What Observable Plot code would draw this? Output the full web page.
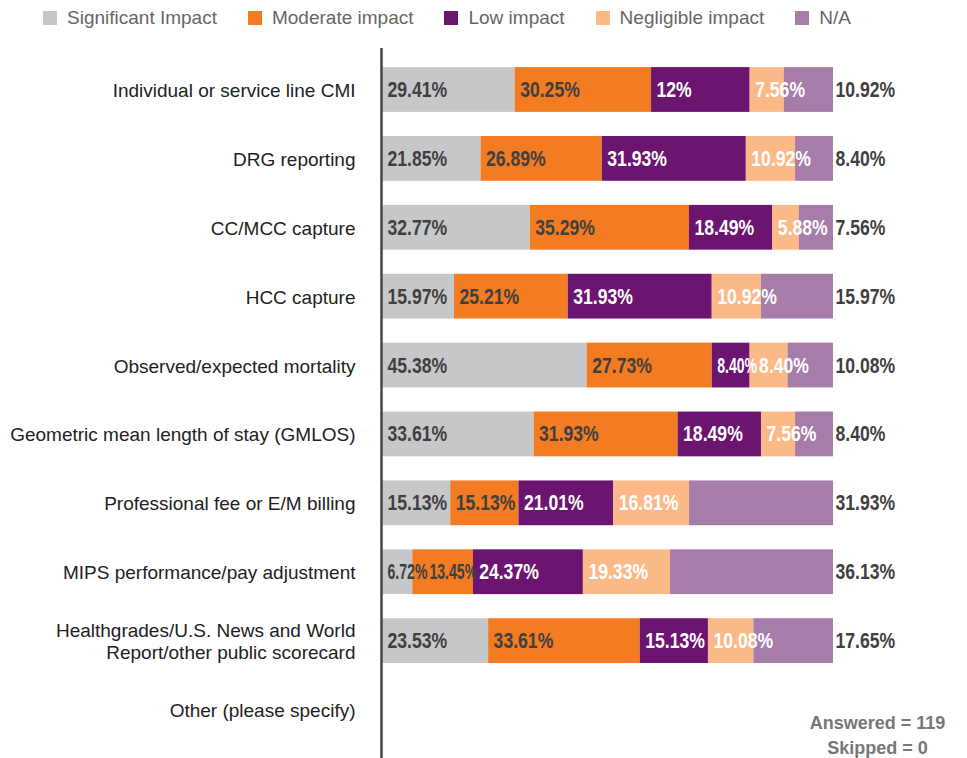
<!DOCTYPE html>
<html>
<head>
<meta charset="utf-8">
<script src="https://cdn.jsdelivr.net/npm/d3@7"></script>
<script src="https://cdn.jsdelivr.net/npm/@observablehq/plot@0.6"></script>
<style>
  html, body { margin: 0; padding: 0; background: #fff; }
  #legend { display: flex; align-items: center; height: 35px; margin-bottom: 5px; padding-left: 43px; gap: 31px;
            font-family: "Liberation Sans", Arial, sans-serif; font-size: 19px; color: #666; }
  #legend .item { display: flex; align-items: center; }
  #legend .sw { width: 14px; height: 14px; margin-right: 10px; display: inline-block; }
  #chart svg { display: block; }
</style>
</head>
<body>
<div id="legend"></div>
<div id="chart"></div>
<script>
const categories = [
  "Individual or service line CMI",
  "DRG reporting",
  "CC/MCC capture",
  "HCC capture",
  "Observed/expected mortality",
  "Geometric mean length of stay (GMLOS)",
  "Professional fee or E/M billing",
  "MIPS performance/pay adjustment",
  "Healthgrades/U.S. News and World\nReport/other public scorecard",
  "Other (please specify)"
];
const seriesNames = ["Significant Impact", "Moderate impact", "Low impact", "Negligible impact", "N/A"];
const seriesColors = ["#c6c7c9", "#f37b21", "#6b1470", "#fbb987", "#a67ca9"];

const significant = [29.41, 21.85, 32.77, 15.97, 45.38, 33.61, 15.13, 6.72, 23.53, null];
const moderate    = [30.25, 26.89, 35.29, 25.21, 27.73, 31.93, 15.13, 13.45, 33.61, null];
const low         = [21.86, 31.93, 18.49, 31.93, 8.40, 18.49, 21.01, 24.37, 15.13, null];
const negligible  = [7.56, 10.92, 5.88, 10.92, 8.40, 7.56, 16.81, 19.33, 10.08, null];
const notApplicable = [10.92, 8.40, 7.56, 15.97, 10.08, 8.40, 31.93, 36.13, 17.65, null];
// printed label that differs from the drawn bar in the original
const printedLabels = {"Individual or service line CMI|Low impact": "12%"};

const answered = 119;
const skipped = 0;

const seriesValues = [significant, moderate, low, negligible, notApplicable];
const data = [];
categories.forEach((cat, i) => {
  seriesNames.forEach((s, j) => {
    const v = seriesValues[j][i];
    if (v != null) data.push({cat, series: s, value: v});
  });
});
const labelOf = d => printedLabels[d.cat + "|" + d.series] ?? (d.value.toFixed(2) + "%");
const darkText = new Set(["Significant Impact", "Moderate impact"]);
const lightText = new Set(["Low impact", "Negligible impact"]);

// legend
const legend = document.getElementById("legend");
seriesNames.forEach((s, i) => {
  const it = document.createElement("span");
  it.className = "item";
  it.innerHTML = `<span class="sw" style="background:${seriesColors[i]}"></span><span>${s}</span>`;
  legend.appendChild(it);
});

const valueFont = "'Liberation Sans', Arial, sans-serif";

const chart = Plot.plot({
  width: 967,
  height: 718,
  marginLeft: 382,
  marginRight: 134,
  marginTop: 8,
  marginBottom: 0,
  style: {fontFamily: "'Liberation Sans', Arial, sans-serif", overflow: "visible"},
  x: {domain: [0, 100], axis: null},
  y: {domain: categories, range: [3, 716], padding: 0.35, round: false, axis: null},
  color: {domain: seriesNames, range: seriesColors},
  marks: [
    Plot.barX(data, {x: "value", y: "cat", fill: "series", order: seriesNames}),
    Plot.text(data, Plot.stackX1({
      x: "value", y: "cat", z: "series", order: seriesNames,
      text: d => darkText.has(d.series) ? labelOf(d) : "",
      textAnchor: "start", dx: 5, fill: "#3f3f3f", className: "vlab",
      fontFamily: valueFont, fontWeight: "bold", fontSize: 22
    })),
    Plot.text(data, Plot.stackX1({
      x: "value", y: "cat", z: "series", order: seriesNames,
      text: d => lightText.has(d.series) ? labelOf(d) : "",
      textAnchor: "start", dx: 5, fill: "#ffffff", className: "vlab",
      fontFamily: valueFont, fontWeight: "bold", fontSize: 22
    })),
    Plot.text(data, Plot.stackX2({
      x: "value", y: "cat", z: "series", order: seriesNames,
      text: d => d.series === "N/A" ? labelOf(d) : "",
      textAnchor: "start", dx: 2, fill: "#3f3f3f", className: "vlab-out",
      fontFamily: valueFont, fontWeight: "bold", fontSize: 22
    })),
    Plot.ruleX([0], {stroke: "#444", strokeWidth: 2.5, dx: -1}),
    Plot.axisY({tickSize: 0, tickPadding: 27, fontSize: 19, lineHeight: 22 / 19, fill: "#222", label: null}),
    Plot.text([`Answered = ${answered}\nSkipped = ${skipped}`], {
      frameAnchor: "bottom-right", dx: 44, dy: -25, textAnchor: "middle", lineAnchor: "middle",
      lineHeight: 24.5 / 18, fontSize: 18, fontWeight: "bold", fill: "#777"
    })
  ]
});
document.getElementById("chart").appendChild(chart);

// condense the bold value labels (the original uses a condensed bold face)
const condense = 0.8;
const inside = [];
chart.querySelectorAll(".vlab text, .vlab-out text").forEach(t => {
  if (!t.textContent) return;
  const w = t.getComputedTextLength() * condense;
  t.setAttribute("textLength", w.toFixed(1));
  t.setAttribute("lengthAdjust", "spacingAndGlyphs");
  if (t.closest(".vlab")) {
    const r = t.getBoundingClientRect();
    inside.push({t, w, left: r.left, cy: Math.round(r.top + r.height / 2)});
  }
});
// keep neighbouring inside labels from running into each other
for (const labels of d3.group(inside, d => d.cy).values()) {
  labels.sort((a, b) => a.left - b.left);
  let prevEnd = -Infinity;
  labels.forEach((l, k) => {
    const start = Math.max(l.left, prevEnd + 2);
    let w = l.w;
    const next = labels[k + 1];
    if (next && start + w > next.left - 2) w = Math.max(next.left - 2 - start, l.w * 0.8);
    l.t.setAttribute("dx", (start - l.left).toFixed(1));
    l.t.setAttribute("textLength", w.toFixed(1));
    prevEnd = start + w;
  });
}
</script>
</body>
</html>
